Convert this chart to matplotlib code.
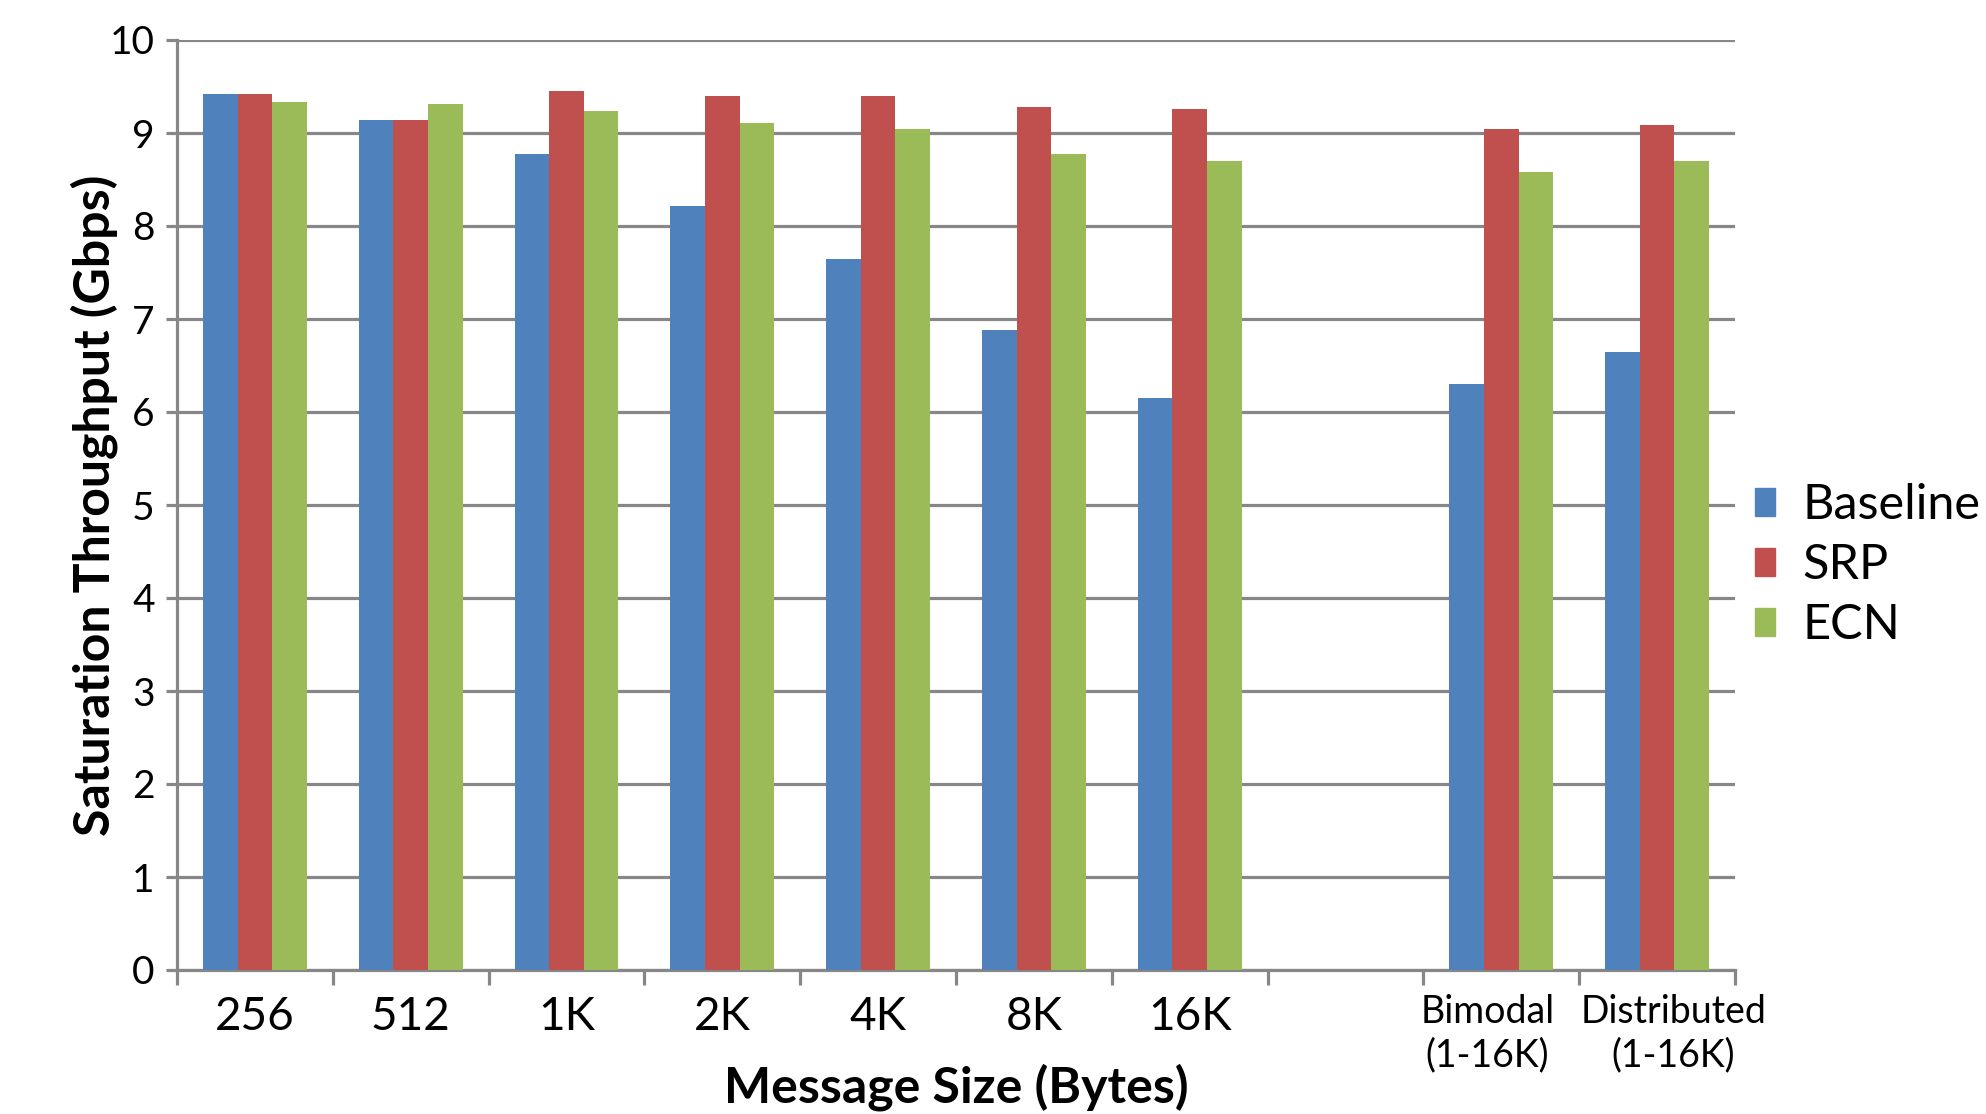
import numpy as np
import matplotlib
matplotlib.use("Agg")
import matplotlib.pyplot as plt
import matplotlib.transforms as mtransforms
from matplotlib.patches import Patch

plt.rcParams['font.family'] = ['Lato', 'DejaVu Sans']

# throughput at saturation, one slot per message size (slot 8 left empty)
categories = ['256', '512', '1K', '2K', '4K', '8K', '16K', '',
              'Bimodal\n(1-16K)', 'Distributed\n(1-16K)']
baseline = [9.42, 9.14, 8.77, 8.22, 7.64, 6.88, 6.15, np.nan, 6.30, 6.64]
srp = [9.42, 9.14, 9.45, 9.40, 9.40, 9.28, 9.26, np.nan, 9.04, 9.09]
ecn = [9.33, 9.31, 9.24, 9.11, 9.04, 8.77, 8.70, np.nan, 8.58, 8.70]

series = [('Baseline', baseline, '#4F81BD'),
          ('SRP', srp, '#C0504D'),
          ('ECN', ecn, '#9BBB59')]

grid_col = '#878787'

fig = plt.figure(figsize=(19.86, 11.14), dpi=100)
ax = fig.add_axes([177 / 1986, 1 - 970 / 1114, (1735 - 177) / 1986, (970 - 40) / 1114])

x = np.arange(len(categories))
w = 1 / 4.5
for i, (name, vals, col) in enumerate(series):
    ax.bar(x + (i - 1) * w, vals, w, color=col, label=name,
           edgecolor='none', zorder=3)

ax.set_xlim(-0.5, len(categories) - 0.5)
ax.set_ylim(0, 10)
ax.set_yticks(range(0, 11))
ax.yaxis.grid(True, color=grid_col, linewidth=2.3, zorder=0)
ax.set_axisbelow(True)

for s in ['top', 'right']:
    ax.spines[s].set_visible(False)
for s in ['left', 'bottom']:
    ax.spines[s].set_color(grid_col)
    ax.spines[s].set_linewidth(2.3)

ax.set_xticks(x)
ax.set_xticklabels(categories)
ax.set_xticks(np.arange(-0.5, len(categories)), minor=True)
ax.tick_params(axis='x', which='major', length=0, pad=19, labelsize=33)
ax.tick_params(axis='x', which='minor', length=11, width=2.3, color=grid_col, direction='out')
ax.tick_params(axis='y', length=8, width=2.3, color=grid_col, pad=8, labelsize=28)

# the two long labels are nudged apart so they don't collide
for lab, dx in zip(ax.get_xticklabels()[-2:], [-14, 16]):
    lab.set_fontsize(27)
    lab.set_linespacing(1.25)
    lab.set_transform(lab.get_transform() +
                      mtransforms.ScaledTranslation(dx / 100, 2 / 100, fig.dpi_scale_trans))

ax.set_xlabel('Message Size (Bytes)', fontsize=36, fontweight='bold', va='center')
ax.xaxis.set_label_coords(0.5, -0.126)
ax.set_ylabel('Saturation Throughput (Gbps)', fontsize=36, fontweight='bold', va='center')
ax.yaxis.set_label_coords(-0.053, 0.5)

handles = [Patch(color=c) for _, _, c in series]
fig.legend(handles, [n for n, _, _ in series], loc='center left',
           bbox_to_anchor=(1755 / 1986, 1 - 565 / 1114), frameon=False,
           fontsize=35, handlelength=0.42, handleheight=0.5, handletextpad=0.55,
           labelspacing=0.33, borderpad=0, borderaxespad=0)

fig.savefig('out.png', dpi=100, facecolor='white')
